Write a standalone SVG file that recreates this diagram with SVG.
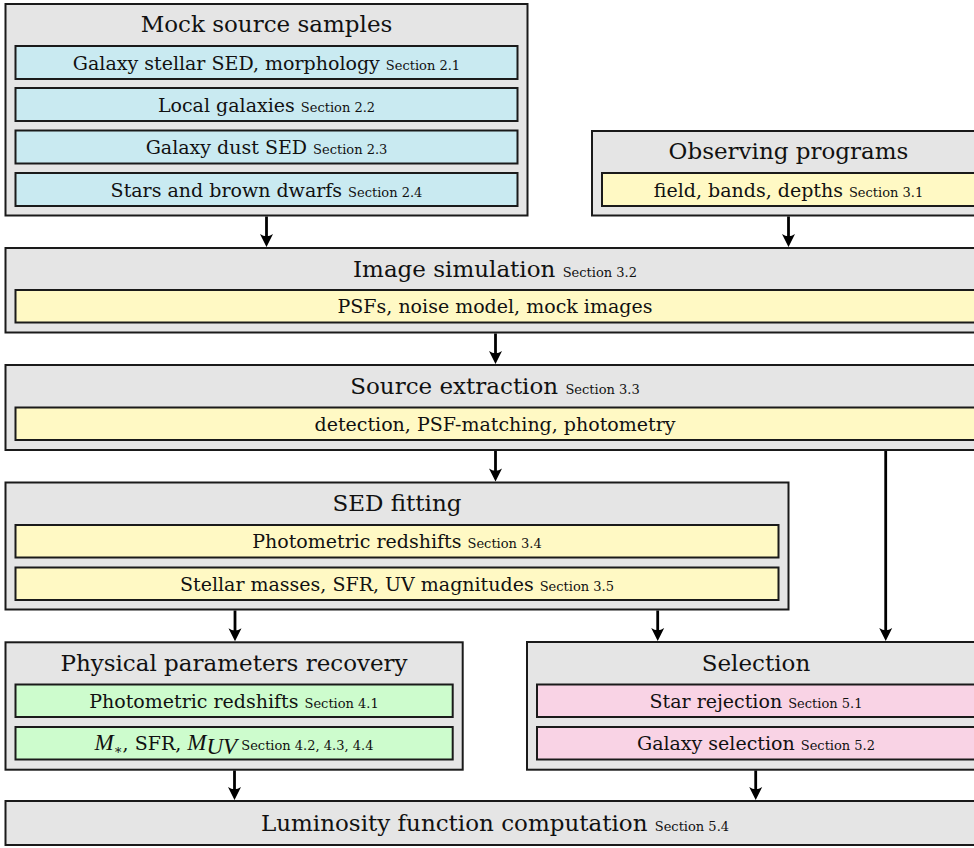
<svg xmlns="http://www.w3.org/2000/svg" width="974" height="848" viewBox="0 0 974 848">
<defs>
<style>
.outer{fill:#e5e5e5;stroke:#1a1a1a;stroke-width:2}
.inner{stroke:#1a1a1a;stroke-width:2}
.blue{fill:#c9eaf1}
.yellow{fill:#fff9c4}
.green{fill:#cdfccd}
.pink{fill:#f9d3e5}
.title{font-family:"DejaVu Serif","Liberation Serif",serif;font-size:23px;fill:#111;text-anchor:middle}
.body{font-family:"DejaVu Serif","Liberation Serif",serif;font-size:19px;fill:#111;text-anchor:middle}
.sec{font-size:13px}
.math{font-family:"Liberation Serif",serif;font-style:italic;font-size:23px}
.conn line{stroke:#000;stroke-width:2.8;marker-end:url(#arr)}
</style>
<marker id="arr" markerUnits="userSpaceOnUse" viewBox="-14 -8 15 16" markerWidth="15" markerHeight="16" refX="-6" refY="0" orient="auto">
<path d="M0,0 L-13,-6.5 Q-8.5,0 -13,6.5 Z" fill="#000"/>
</marker>
</defs>
<rect width="974" height="848" fill="#fff"/>

<g id="mock">
<rect class="outer" x="5.5" y="4" width="522" height="211.5"/>
<text class="title" x="266.5" y="32">Mock source samples</text>
<rect class="inner blue" x="15.5" y="46" width="502" height="33"/>
<text class="body" x="266.5" y="69.5">Galaxy stellar SED, morphology <tspan class="sec">Section 2.1</tspan></text>
<rect class="inner blue" x="15.5" y="88" width="502" height="33"/>
<text class="body" x="266.5" y="111.5">Local galaxies <tspan class="sec">Section 2.2</tspan></text>
<rect class="inner blue" x="15.5" y="130.5" width="502" height="33"/>
<text class="body" x="266.5" y="154">Galaxy dust SED <tspan class="sec">Section 2.3</tspan></text>
<rect class="inner blue" x="15.5" y="173" width="502" height="33"/>
<text class="body" x="266.5" y="196.5">Stars and brown dwarfs <tspan class="sec">Section 2.4</tspan></text>
</g>

<g id="observing">
<rect class="outer" x="592" y="131" width="393" height="84.5"/>
<text class="title" x="788.5" y="159">Observing programs</text>
<rect class="inner yellow" x="602" y="173" width="373" height="33"/>
<text class="body" x="788.5" y="196.5">field, bands, depths <tspan class="sec">Section 3.1</tspan></text>
</g>

<g id="imagesim">
<rect class="outer" x="5.5" y="248" width="979.5" height="84.5"/>
<text class="title" x="495" y="276.5">Image simulation <tspan class="sec">Section 3.2</tspan></text>
<rect class="inner yellow" x="15.5" y="290" width="959.5" height="32.5"/>
<text class="body" x="495" y="313">PSFs, noise model, mock images</text>
</g>

<g id="extraction">
<rect class="outer" x="5.5" y="365" width="979.5" height="85"/>
<text class="title" x="495" y="393.5">Source extraction <tspan class="sec">Section 3.3</tspan></text>
<rect class="inner yellow" x="15.5" y="407.5" width="959.5" height="32.5"/>
<text class="body" x="495" y="430.5">detection, PSF-matching, photometry</text>
</g>

<g id="sed">
<rect class="outer" x="5.5" y="482.5" width="783" height="127"/>
<text class="title" x="397" y="511">SED fitting</text>
<rect class="inner yellow" x="15.5" y="525" width="763" height="32.5"/>
<text class="body" x="397" y="548">Photometric redshifts <tspan class="sec">Section 3.4</tspan></text>
<rect class="inner yellow" x="15.5" y="567.5" width="763" height="32.5"/>
<text class="body" x="397" y="590.5">Stellar masses, SFR, UV magnitudes <tspan class="sec">Section 3.5</tspan></text>
</g>

<g id="physical">
<rect class="outer" x="5.5" y="642.3" width="457.2" height="127.4"/>
<text class="title" x="234" y="671">Physical parameters recovery</text>
<rect class="inner green" x="15.5" y="684.5" width="437.2" height="32.5"/>
<text class="body" x="234" y="707.5">Photometric redshifts <tspan class="sec">Section 4.1</tspan></text>
<rect class="inner green" x="15.5" y="727" width="437.2" height="32.5"/>
<text class="body" x="234" y="750"><tspan class="math">M</tspan><tspan font-size="13px" dy="4">∗</tspan><tspan dy="-4">, SFR, </tspan><tspan class="math">M</tspan><tspan class="math" font-size="16px" dy="4">UV</tspan><tspan class="sec" dy="-4"> Section 4.2, 4.3, 4.4</tspan></text>
</g>

<g id="selection">
<rect class="outer" x="527" y="642" width="458" height="127.7"/>
<text class="title" x="756" y="671">Selection</text>
<rect class="inner pink" x="537" y="684.5" width="438" height="32.5"/>
<text class="body" x="756" y="707.5">Star rejection <tspan class="sec">Section 5.1</tspan></text>
<rect class="inner pink" x="537" y="727" width="438" height="32.5"/>
<text class="body" x="756" y="750">Galaxy selection <tspan class="sec">Section 5.2</tspan></text>
</g>

<g id="lf">
<rect class="outer" x="5.5" y="801" width="979.5" height="44"/>
<text class="title" x="495" y="831">Luminosity function computation <tspan class="sec">Section 5.4</tspan></text>
</g>

<g id="connectors" class="conn">
<line x1="266.5" y1="216.5" x2="266.5" y2="241"/>
<line x1="788.5" y1="216.5" x2="788.5" y2="241"/>
<line x1="495.5" y1="333.5" x2="495.5" y2="358"/>
<line x1="495.5" y1="451" x2="495.5" y2="475.5"/>
<line x1="885.7" y1="451" x2="885.7" y2="635"/>
<line x1="235" y1="610.5" x2="235" y2="635.3"/>
<line x1="657.7" y1="610.5" x2="657.7" y2="635"/>
<line x1="234.5" y1="770.5" x2="234.5" y2="794"/>
<line x1="755.7" y1="770.5" x2="755.7" y2="794"/>
</g>
</svg>
